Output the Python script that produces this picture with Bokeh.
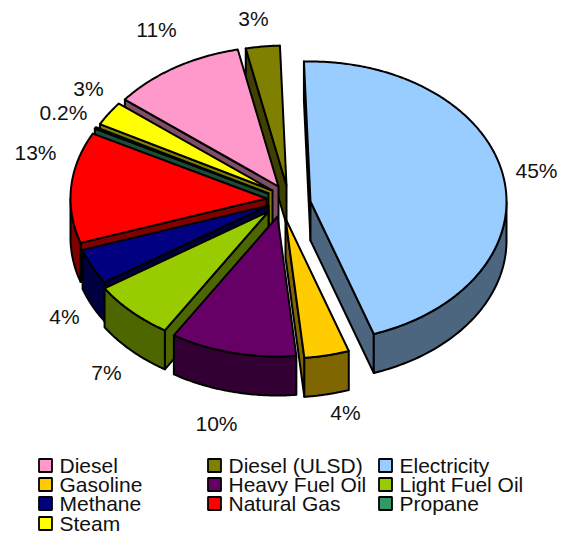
import numpy as np
from bokeh.core.properties import value
from bokeh.embed import file_html
from bokeh.models import Range1d
from bokeh.plotting import figure
from bokeh.resources import INLINE

categories = ["Diesel", "Diesel (ULSD)", "Electricity", "Gasoline", "Heavy Fuel Oil",
              "Light Fuel Oil", "Methane", "Natural Gas", "Propane", "Steam"]
shares = [11.0, 2.8, 45.3, 3.7, 10.4, 6.9, 4.1, 12.8, 0.2, 2.8]
share_labels = ["11%", "3%", "45%", "4%", "10%", "7%", "4%", "13%", "0.2%", "3%"]

top_colors = ["#FF99CC", "#808000", "#99CCFF", "#FFCC00", "#660066",
              "#99CC00", "#000080", "#FF0000", "#339966", "#FFFF00"]
side_colors = ["#804D66", "#404000", "#4D6680", "#806600", "#330033",
               "#4D6600", "#000040", "#800000", "#1A4D33", "#808000"]

# Layout (reference pixels)
START_ANGLE = 308.4
RX, RY, DEPTH = 196.0, 140.0, 39.0
apex_x = [278, 286, 310, 285, 277, 268, 268, 266, 268, 272]
apex_y = [186, 185, 201, 218, 216, 211, 205, 198, 193, 190]
label_x = [156, 253, 536, 345, 216, 106, 64, 35, 63, 88]
label_y = [29, 18, 170, 412, 423, 372, 316, 152, 112, 88]
draw_order = [2, 1, 0, 9, 8, 7, 6, 5, 4, 3]
legend_col_x = [45, 214, 385]
legend_row_y = [465, 484, 503, 523]
LINE = 2.0

p = figure(width=565, height=536, output_backend="svg", toolbar_location=None,
           x_range=Range1d(0, 565), y_range=Range1d(536, 0), min_border=0)
p.axis.visible = False
p.grid.visible = False
p.outline_line_color = None


def point(cx, cy, a):
    r = np.radians(a)
    return cx + RX * np.sin(r), cy - RY * np.cos(r)


def face(xs, ys, color):
    p.patch(list(xs), list(ys), fill_color=color, line_color="black",
            line_width=LINE, line_join="round")


edges = START_ANGLE + np.concatenate([[0.0], np.cumsum(shares)]) * 3.6

for i in draw_order:
    a0, a1 = edges[i], edges[i + 1]
    cx, cy = apex_x[i], apex_y[i]
    mid = point(cx, cy, (a0 + a1) / 2)

    for a in (a0, a1):
        ex, ey = point(cx, cy, a)
        cross_mid = (ex - cx) * (mid[1] - cy) - (ey - cy) * (mid[0] - cx)
        cross_down = (ex - cx) * 1.0
        if cross_mid * cross_down < 0:
            face([cx, ex, ex, cx], [cy, ey, ey + DEPTH, cy + DEPTH], side_colors[i])

    # Outer wall: the part of the rim that faces the viewer
    for shift in (0, 360, -360):
        lo, hi = max(a0 + shift, 90), min(a1 + shift, 270)
        if hi > lo:
            t = np.linspace(lo, hi, 60)
            wx, wy = point(cx, cy, t)
            face(np.r_[wx, wx[::-1]], np.r_[wy, wy[::-1] + DEPTH], side_colors[i])

    t = np.linspace(a0, a1, max(3, int(a1 - a0) * 2))
    tx, ty = point(cx, cy, t)
    face(np.r_[cx, tx], np.r_[cy, ty], top_colors[i])

p.text(label_x, label_y, text=share_labels, text_font=value("Liberation Sans"),
       text_font_size="21px", text_color="#111111", text_align="center", text_baseline="middle")

for i, name in enumerate(categories):
    row, col = divmod(i, 3)
    x, y = legend_col_x[col], legend_row_y[row]
    p.rect([x], [y], width=13, height=13, fill_color=top_colors[i], line_color="black", line_width=1.8)
    p.text([x + 14], [y], text=[name], text_font=value("Liberation Sans"), text_font_size="21px",
           text_color="#111111", text_align="left", text_baseline="middle")

open("out.html", "w").write(file_html(p, INLINE))
